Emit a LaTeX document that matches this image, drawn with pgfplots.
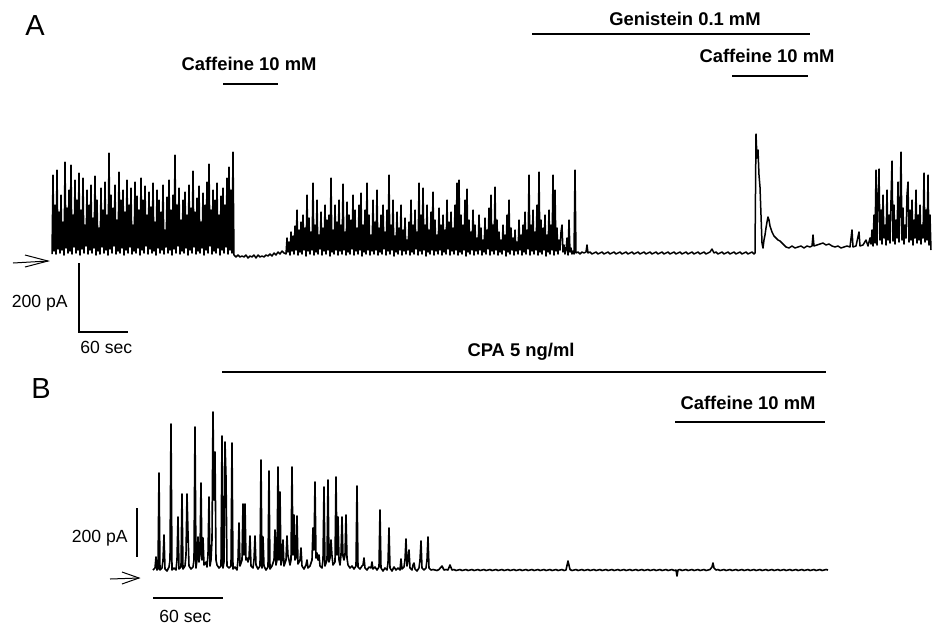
\documentclass[border=0pt]{standalone}
\usepackage{fontspec}
\setmainfont{Liberation Sans}
\usepackage{pgfplots}
\usepackage{pgfplotstable}
\pgfplotsset{compat=1.18}

% Trace A: membrane current, x in time units, y in current units (downward)
\pgfplotstableread{
x y
52 254
53 175
54 251
55 205
56 254
57 170
58 249
59 212
60 253
61 195
62 250
63 222
64 255
65 162
66 248
67 208
68 253
69 190
70 251
71 165
72 254
73 215
74 247
75 180
76 253
77 200
78 250
79 173
80 255
81 210
82 249
83 178
84 253
85 225
86 246
87 190
88 254
89 205
90 250
91 185
92 253
93 218
94 248
95 176
96 255
97 200
98 251
99 228
100 254
101 188
102 247
103 210
104 253
105 182
106 250
107 215
108 255
109 153
110 249
111 195
112 253
113 208
114 246
115 185
116 254
117 220
118 251
119 172
120 253
121 200
122 248
123 190
124 255
125 212
126 250
127 180
128 253
129 205
130 247
131 188
132 254
133 225
134 251
135 182
136 253
137 196
138 248
139 210
140 255
141 178
142 250
143 200
144 253
145 186
146 246
147 215
148 254
149 192
150 249
151 207
152 253
153 183
154 251
155 222
156 255
157 190
158 248
159 200
160 253
161 212
162 250
163 185
164 254
165 230
166 247
167 197
168 253
169 180
170 250
171 210
172 255
173 195
174 249
175 155
176 253
177 205
178 246
179 188
180 254
181 220
182 251
183 200
184 253
185 192
186 248
187 215
188 255
189 185
190 250
191 208
192 253
193 171
194 247
195 212
196 254
197 198
198 251
199 186
200 253
201 222
202 248
203 193
204 255
205 205
206 250
207 182
208 253
209 164
210 246
211 210
212 254
213 190
214 251
215 200
216 253
217 183
218 248
219 215
220 255
221 196
222 250
223 188
224 253
225 205
226 247
227 178
228 254
229 167
230 250
231 190
232 253
233 152
234 255
236 257
238 255
240 257
242 256
244 257
246 255
248 258
250 256
252 257
254 255
256 258
258 255
260 257
262 256
264 257
266 255
268 256
270 254
272 256
274 253
276 255
278 252
280 254
282 251
284 253
286 254
287 238
288 252
289 242
290 255
291 232
292 251
293 236
294 254
295 226
296 250
297 210
298 255
299 230
300 252
301 222
302 254
303 215
304 250
305 228
306 256
307 195
308 251
309 218
310 254
311 232
312 250
313 183
314 255
315 225
316 252
317 200
318 254
319 235
320 249
321 212
322 255
323 228
324 251
325 205
326 254
327 220
328 250
329 215
330 256
331 178
332 252
333 230
334 254
335 205
336 250
337 222
338 255
339 200
340 251
341 225
342 254
343 184
344 250
345 232
346 255
347 202
348 252
349 215
350 254
351 220
352 249
353 195
354 255
355 210
356 251
357 228
358 254
359 205
360 250
361 193
362 256
363 225
364 252
365 210
366 254
367 183
368 250
369 215
370 255
371 235
372 251
373 200
374 254
375 222
376 250
377 190
378 255
379 228
380 252
381 215
382 254
383 205
384 249
385 232
386 255
387 210
388 251
389 175
390 254
391 225
392 250
393 200
394 256
395 236
396 252
397 212
398 254
399 228
400 250
401 205
402 255
403 230
404 251
405 218
406 254
407 240
408 250
409 222
410 255
411 200
412 252
413 225
414 254
415 210
416 249
417 232
418 255
419 183
420 251
421 215
422 254
423 188
424 250
425 225
426 256
427 205
428 252
429 230
430 254
431 212
432 250
433 192
434 255
435 220
436 251
437 235
438 254
439 208
440 250
441 225
442 255
443 215
444 252
445 230
446 254
447 200
448 249
449 222
450 255
451 212
452 251
453 228
454 254
455 205
456 250
457 183
458 255
459 180
460 252
461 215
462 254
463 225
464 250
465 200
466 256
467 189
468 252
469 220
470 254
471 232
472 250
473 210
474 255
475 225
476 251
477 238
478 254
479 215
480 250
481 228
482 255
483 240
484 252
485 218
486 254
487 230
488 249
489 208
490 255
491 195
492 251
493 225
494 254
495 187
496 250
497 220
498 255
499 232
500 252
501 240
502 254
503 225
504 250
505 235
506 256
507 215
508 252
509 200
510 254
511 228
512 250
513 238
514 255
515 230
516 251
517 242
518 254
519 220
520 250
521 235
522 255
523 225
524 252
525 212
526 254
527 230
528 249
529 175
530 255
531 225
532 251
533 210
534 254
535 232
536 250
537 205
538 255
539 172
540 252
541 220
542 254
543 228
544 250
545 215
546 256
547 235
548 252
549 210
550 254
551 225
552 250
553 175
554 255
555 190
556 251
557 228
558 254
559 240
560 250
561 232
562 225
563 252
564 245
565 254
566 250
567 238
568 255
569 220
570 252
571 248
572 254
573 251
574 254
575 170
576 253
578 252
580 254
582 252
584 253
586 252
587 245
588 253
590 252
592 254
594 253
596 252
598 254
600 253
602 252
604 254
606 253
608 252
610 254
612 253
614 252
616 254
618 253
620 252
622 254
624 253
626 252
628 254
630 253
632 252
634 254
636 253
638 252
640 254
642 253
644 252
646 254
648 253
650 252
652 254
654 253
656 252
658 254
660 253
662 252
664 254
666 253
668 252
670 254
672 253
674 252
676 254
678 253
680 252
682 254
684 253
686 252
688 254
690 253
692 252
694 254
696 253
698 252
700 254
702 253
704 252
706 254
708 253
710 252
712 249
714 253
716 252
718 254
720 253
722 252
724 254
726 253
728 252
730 254
732 253
734 252
736 254
738 253
740 252
742 254
744 253
746 252
748 254
750 253
752 252
754 254
755 253
756 134
757 158
758 150
759 175
760 187
761 215
762 243
763 248
764 240
765 235
766 228
767 222
768 217
769 220
770 226
772 232
774 236
776 238
778 240
780 241
783 244
786 247
789 248
792 246
795 248
798 247
801 246
804 248
807 246
810 247
812 246
813 235
814 246
817 245
820 244
823 243
826 245
829 244
832 246
835 247
838 246
841 248
844 247
847 246
850 247
852 230
853 247
856 246
859 232
860 246
863 245
866 240
868 246
870 238
871 244
872 230
873 246
874 215
875 243
876 170
877 245
878 200
879 169
880 240
881 210
882 244
883 195
884 238
885 225
886 245
887 190
888 240
889 215
890 243
891 200
892 161
893 241
894 205
895 244
896 220
897 238
898 182
899 242
900 210
901 152
902 240
903 208
904 244
905 225
906 238
907 195
908 182
909 242
910 210
911 240
912 200
913 245
914 220
915 238
916 190
917 243
918 215
919 240
920 205
921 244
922 225
923 238
924 173
925 242
926 210
927 240
928 175
929 245
930 215
931 250
}\traceA

% Trace B: current under CPA, then caffeine
\pgfplotstableread{
x y
153 570
155 568
156 557
157 570
158 569
159 473
160 570
162 568
163 560
164 535
165 569
167 571
169 567
170 560
171 424
172 570
174 568
176 570
177 560
178 517
179 569
181 567
182 494
183 569
185 566
186 555
187 494
188 533
189 566
191 569
193 567
194 560
195 427
196 568
197 560
198 537
199 562
200 555
201 483
202 560
203 538
204 565
206 562
207 567
208 555
209 497
210 566
211 560
212 540
213 412
214 500
215 452
216 560
217 565
219 568
221 566
222 436
223 568
224 562
225 442
226 477
227 566
229 568
231 566
232 443
233 569
235 567
237 570
238 560
239 523
240 566
242 560
243 504
244 555
245 504
246 560
247 558
248 562
249 558
250 536
251 566
253 568
254 560
255 536
256 565
258 569
260 566
261 460
262 568
263 537
264 566
266 570
268 567
269 471
270 569
272 566
274 560
275 530
276 565
277 560
278 467
279 560
280 492
281 565
282 560
283 540
284 566
286 560
287 536
288 556
289 560
290 565
291 560
292 467
293 555
294 515
295 560
296 558
297 516
298 564
300 560
301 548
302 566
304 569
306 565
307 560
308 568
310 566
312 560
313 528
314 550
315 482
316 558
317 553
318 560
319 555
320 566
322 568
323 560
324 487
325 566
327 560
328 480
329 562
330 558
331 540
332 556
333 565
335 562
336 477
337 555
338 517
339 560
340 565
341 555
342 517
343 556
344 560
345 555
346 515
347 558
348 565
350 568
352 566
354 569
356 566
357 486
358 567
360 569
362 566
363 565
364 558
365 568
367 570
369 567
371 568
372 562
373 569
375 567
377 570
379 567
380 510
381 568
383 571
385 568
387 570
388 563
389 528
390 568
392 571
394 567
396 570
398 568
400 570
401 559
402 569
404 567
405 560
406 539
407 566
408 560
409 550
410 568
412 570
413 565
414 563
415 569
417 571
419 568
420 560
421 541
422 568
424 570
426 568
427 560
428 537
429 568
431 570
433 569.5
435 570
437 570.5
439 569.5
442 566
444 570
446 569.5
448 570
450 565
452 570
454 569.5
456 570.5
458 570
460 569.5
462 570.5
464 570
466 569.5
468 570.5
470 570
472 569.5
474 570.5
476 570
478 569.5
480 570.5
482 570
484 569.5
486 570.5
488 570
490 569.5
492 570.5
494 570
496 569.5
498 570.5
500 570
502 569.5
504 570.5
506 570
508 569.5
510 570.5
512 570
514 569.5
516 570.5
518 570
520 569.5
522 570.5
524 570
526 569.5
528 570.5
530 570
532 569.5
534 570.5
536 570
538 569.5
540 570.5
542 570
544 569.5
546 570.5
548 570
550 569.5
552 570.5
554 570
556 569.5
558 570.5
560 570
562 569.5
564 570.5
566 570
568 561
570 569.5
572 570.5
574 570
576 569.5
578 570.5
580 570
582 569.5
584 570.5
586 570
588 569.5
590 570.5
592 570
594 569.5
596 570.5
598 570
600 569.5
602 570.5
604 570
606 569.5
608 570.5
610 570
612 569.5
614 570.5
616 570
618 569.5
620 570.5
622 570
624 569.5
626 570.5
628 570
630 569.5
632 570.5
634 570
636 569.5
638 570.5
640 570
642 569.5
644 570.5
646 570
648 569.5
650 570.5
652 570
654 569.5
656 570.5
658 570
660 569.5
662 570.5
664 570
666 569.5
668 570.5
670 570
672 569.5
674 570.5
676 570
677 576
678 570
680 569.5
682 570.5
684 570
686 569.5
688 570.5
690 570
692 569.5
694 570.5
696 570
698 569.5
700 570.5
702 570
704 569.5
706 570.5
708 570
710 569.5
712 567
713 563
714 568
716 570
718 569.5
720 570.5
722 570
724 569.5
726 570.5
728 570
730 569.5
732 570.5
734 570
736 569.5
738 570.5
740 570
742 569.5
744 570.5
746 570
748 569.5
750 570.5
752 570
754 569.5
756 570.5
758 570
760 569.5
762 570.5
764 570
766 569.5
768 570.5
770 570
772 569.5
774 570.5
776 570
778 569.5
780 570.5
782 570
784 569.5
786 570.5
788 570
790 569.5
792 570.5
794 570
796 569.5
798 570.5
800 570
802 569.5
804 570.5
806 570
808 569.5
810 570.5
812 570
814 569.5
816 570.5
818 570
820 569.5
822 570.5
824 570
826 569.5
828 570
}\traceB

\begin{document}
\begin{tikzpicture}
\begin{axis}[
  scale only axis,
  width=469.5pt, height=314.5pt,
  xmin=0, xmax=939, ymin=0, ymax=629,
  y dir=reverse,
  hide axis, clip=false,
]
% recordings
\addplot[black, line width=0.75pt, line join=round] table[x=x, y=y] {\traceA};
\addplot[black, line width=0.8pt, line join=round] table[x=x, y=y] {\traceB};

% drug application bars
\addplot[black, line width=1.2pt] coordinates {(223,84) (278,84)};
\addplot[black, line width=1.2pt] coordinates {(532,34) (810,34)};
\addplot[black, line width=1.2pt] coordinates {(732,76) (808,76)};
\addplot[black, line width=1.2pt] coordinates {(222,372) (826,372)};
\addplot[black, line width=1.2pt] coordinates {(675,422) (825,422)};

% scale bars
\addplot[black, line width=1.1pt] coordinates {(79,263) (79,332) (128,332)};
\addplot[black, line width=1.1pt] coordinates {(137,508) (137,557)};
\addplot[black, line width=1.1pt] coordinates {(153,598) (223,598)};

% baseline arrows
\addplot[black, line width=0.5pt] coordinates {(13,263) (48,261)};
\addplot[black, line width=0.5pt] coordinates {(25,255) (48,261) (25,267)};
\addplot[black, line width=0.5pt] coordinates {(110,579) (139,578)};
\addplot[black, line width=0.5pt] coordinates {(122,572) (139,578) (122,584)};

% panel letters
\node[anchor=base west, inner sep=0pt, font=\fontsize{14.5}{16}\selectfont] at (axis cs:25,35) {A};
\node[anchor=base west, inner sep=0pt, font=\fontsize{14.5}{16}\selectfont] at (axis cs:31,398) {B};

% application labels
\node[anchor=base, inner sep=0pt, font=\fontsize{9.2}{11}\selectfont\bfseries] at (axis cs:249,70) {Caffeine 10 mM};
\node[anchor=base, inner sep=0pt, font=\fontsize{9.2}{11}\selectfont\bfseries] at (axis cs:685,25) {Genistein 0.1 mM};
\node[anchor=base, inner sep=0pt, font=\fontsize{9.2}{11}\selectfont\bfseries] at (axis cs:767,62) {Caffeine 10 mM};
\node[anchor=base, inner sep=0pt, font=\fontsize{9.2}{11}\selectfont\bfseries] at (axis cs:521,356) {CPA 5 ng/ml};
\node[anchor=base, inner sep=0pt, font=\fontsize{9.2}{11}\selectfont\bfseries] at (axis cs:748,409) {Caffeine 10 mM};

% scale labels
\node[anchor=base east, inner sep=0pt, font=\fontsize{8.8}{11}\selectfont] at (axis cs:68,307) {200 pA};
\node[anchor=base west, inner sep=0pt, font=\fontsize{8.8}{11}\selectfont] at (axis cs:80,353) {60 sec};
\node[anchor=base east, inner sep=0pt, font=\fontsize{8.8}{11}\selectfont] at (axis cs:128,542) {200 pA};
\node[anchor=base west, inner sep=0pt, font=\fontsize{8.8}{11}\selectfont] at (axis cs:159,622) {60 sec};
\end{axis}
\pgfresetboundingbox
\path (current axis.south west) rectangle (current axis.north east);
\end{tikzpicture}
\end{document}
